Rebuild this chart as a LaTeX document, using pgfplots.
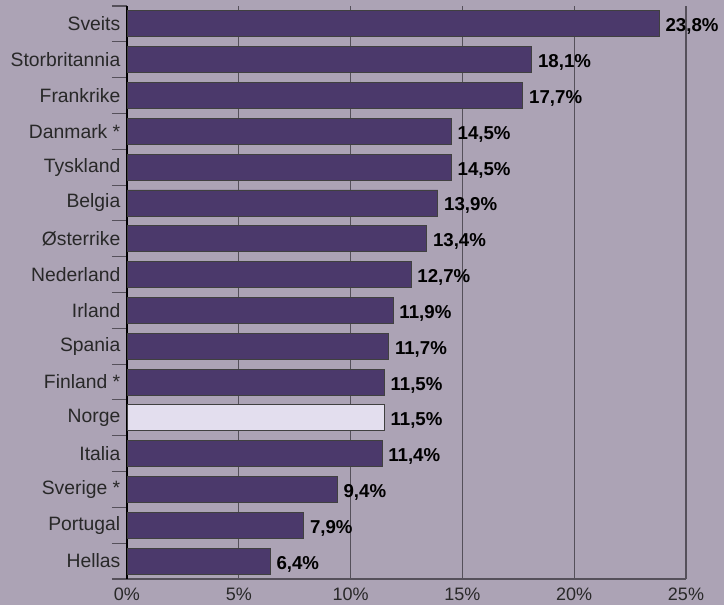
\documentclass[border=0pt]{standalone}
\usepackage{pgfplots}
\pgfplotsset{compat=1.18}
\usepackage{fontspec}
\setmainfont{Liberation Sans}
\definecolor{bg}{RGB}{172,163,181}
\definecolor{barc}{RGB}{75,57,107}
\definecolor{norge}{RGB}{227,222,238}
\definecolor{gridc}{RGB}{85,80,90}
\definecolor{txt}{RGB}{40,40,40}
\begin{document}
\begin{tikzpicture}[x=1pt,y=1pt]
\path[fill=bg, use as bounding box] (0,0) rectangle (543,453.75);
\begin{axis}[
  at={(95.25pt,19.5pt)}, anchor=south west,
  scale only axis, width=419.25pt, height=429.75pt,
  xmin=0, xmax=25, ymin=-0.5, ymax=15.5,
  xbar, bar width=19.5pt, bar shift=0pt,
  /pgf/number format/assume math mode=true,
  axis x line=bottom, axis y line=left,
  every outer x axis line/.append style={-, draw=gridc, line width=0.8pt},
  every outer y axis line/.append style={-, draw=black, line width=0.8pt},
  xtick={0,5,10,15,20,25},
  xticklabel={\pgfmathprintnumber[assume math mode=true]{\tick}\%},
  ytick={0,...,15},
  yticklabels={Hellas,Portugal,Sverige *,Italia,Norge,Finland *,Spania,Irland,Nederland,{\O}sterrike,Belgia,Tyskland,Danmark *,Frankrike,Storbritannia,Sveits},
  minor ytick={-0.5,0.5,...,15.5},
  major tick length=0pt, minor tick length=11.25pt, tick align=outside,
  minor tick style={draw=gridc, line width=0.8pt},
  xmajorgrids, major grid style={draw=gridc, line width=0.8pt},
  xticklabel style={font=\fontsize{13.5}{16}\selectfont, text=txt, yshift=-3.5pt},
  yticklabel style={font=\fontsize{14.5}{16}\selectfont, text=txt, xshift=-1.5pt},
  point meta=x,
  nodes near coords={\pgfmathprintnumber[fixed,fixed zerofill,precision=1,use comma,assume math mode=true]{\pgfplotspointmeta}\%},
  every node near coord/.append style={font=\fontsize{14}{16}\selectfont\bfseries, text=black, anchor=base west, inner sep=0pt, xshift=4.5pt, yshift=-6pt},
  clip=false,
]
\addplot[fill=barc, draw=black!75, line width=0.6pt] coordinates {
  (23.8,15) (18.1,14) (17.7,13) (14.5,12) (14.5,11) (13.9,10) (13.4,9) (12.7,8)
  (11.9,7) (11.7,6) (11.5,5) (11.4,3) (9.4,2) (7.9,1) (6.4,0)
};
\addplot[fill=norge, draw=black!75, line width=0.6pt] coordinates {
  (11.5,4)
};
\end{axis}
\end{tikzpicture}
\end{document}
